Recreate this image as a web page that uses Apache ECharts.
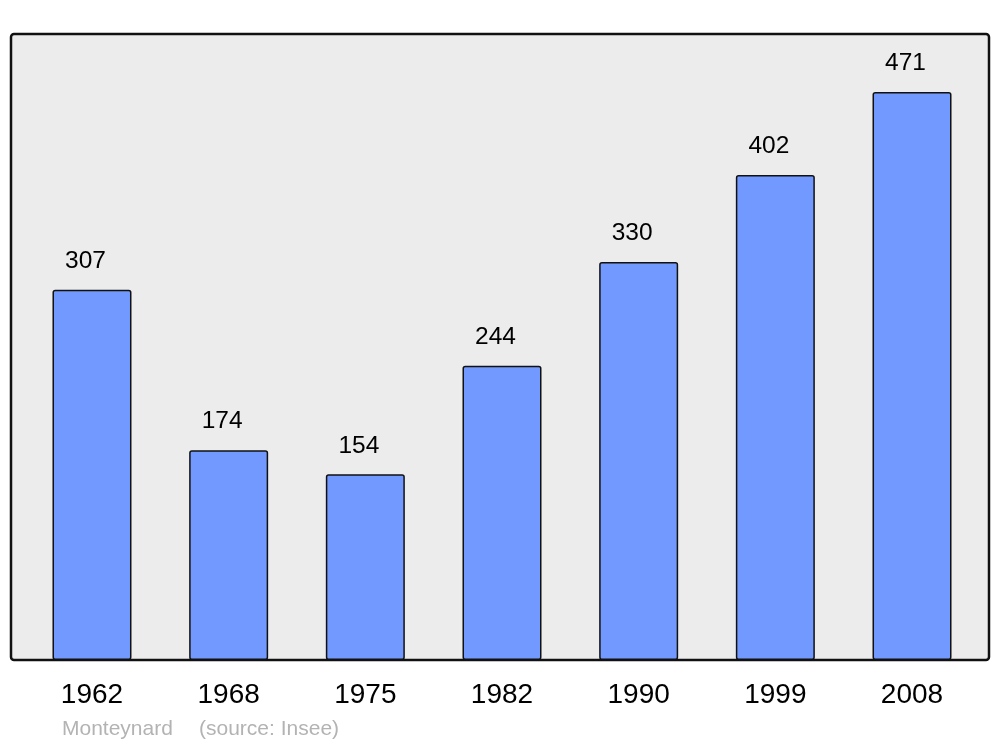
<!DOCTYPE html>
<html>
<head>
<meta charset="utf-8">
<script src="https://cdn.jsdelivr.net/npm/echarts@6/dist/echarts.min.js"></script>
<style>html,body{margin:0;padding:0;background:#fff}#c{width:1000px;height:747px}</style>
</head>
<body>
<div id="c"></div>
<script>
var years = ['1962', '1968', '1975', '1982', '1990', '1999', '2008'];
var population = [307, 174, 154, 244, 330, 402, 471];
var placeName = 'Monteynard';
var sourceNote = '(source: Insee)';

var chart = echarts.init(document.getElementById('c'), null, {renderer: 'canvas'});
chart.setOption({
  animation: false,
  backgroundColor: '#ffffff',
  graphic: [
    {type: 'rect', z: -10, shape: {x: 11, y: 34, width: 978, height: 626, r: 3},
     style: {fill: '#ececec', stroke: '#111', lineWidth: 2.5}},
    {type: 'text', left: 62, top: 719, style: {text: placeName, fill: '#b3b3b3', font: '21px "Liberation Sans", Arial, sans-serif'}},
    {type: 'text', left: 199, top: 719, style: {text: sourceNote, fill: '#b3b3b3', font: '21px "Liberation Sans", Arial, sans-serif'}}
  ],
  grid: {left: 23.65, right: 19.65, top: 34, bottom: 87},
  xAxis: {
    type: 'category', data: years,
    axisLine: {show: false}, axisTick: {show: false}, splitLine: {show: false},
    axisLabel: {color: '#000', fontSize: 28, margin: 21, fontFamily: '"Liberation Sans", Arial, sans-serif'}
  },
  yAxis: {type: 'value', min: 0, max: 519, show: false, splitLine: {show: false}},
  series: [{
    type: 'bar', data: population, barWidth: 79,
    itemStyle: {color: '#7299ff', borderColor: '#111', borderWidth: 1.5, borderRadius: 2},
    label: {show: true, position: 'top', distance: 16, offset: [-6.5, 0], color: '#000', fontSize: 24.5,
            fontFamily: '"Liberation Sans", Arial, sans-serif'}
  }]
});
</script>
</body>
</html>
